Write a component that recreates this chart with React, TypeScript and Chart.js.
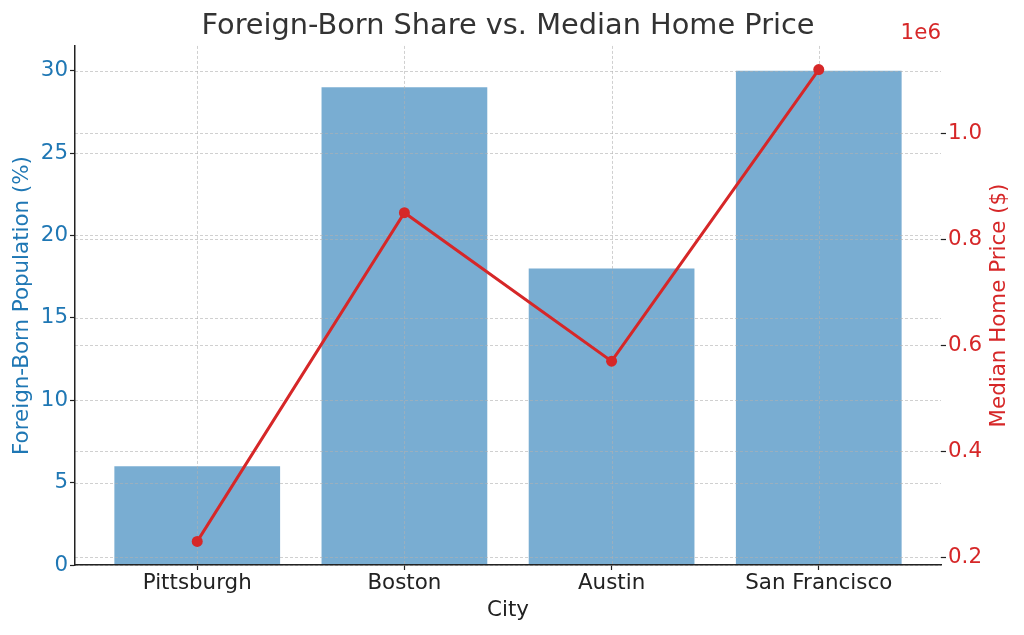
import React, { useEffect, useRef } from 'react';
import { Chart, registerables } from 'chart.js';

Chart.register(...registerables);

const cities = ['Pittsburgh', 'Boston', 'Austin', 'San Francisco'];
const foreignBornPct = [6, 29, 18, 30];
const medianHomePrice = [230000, 850000, 570000, 1120000];
const pctTicks = [0, 5, 10, 15, 20, 25, 30];
const priceTicks = [200000, 400000, 600000, 800000, 1000000];

const BLUE = '#1f77b4';
const RED = '#d62728';
const FONT = "'DejaVu Sans', sans-serif";
const LABEL_SIZE = 21.4;

const overlayPlugin = {
  id: 'overlay',
  afterDatasetDraw(chart: any, args: any) {
    if (args.index !== 0) return;
    const { ctx, chartArea: a } = chart;
    ctx.save();
    ctx.strokeStyle = 'rgba(176,176,176,0.6)';
    ctx.lineWidth = 1;
    ctx.setLineDash([3, 2]);
    const xs = chart.scales.x;
    xs.ticks.forEach((t: any) => {
      const px = Math.round(xs.getPixelForValue(t.value)) + 0.5;
      ctx.beginPath();
      ctx.moveTo(px, a.top);
      ctx.lineTo(px, a.bottom);
      ctx.stroke();
    });
    ['y', 'y1'].forEach((id) => {
      const s = chart.scales[id];
      s.ticks.forEach((t: any) => {
        const py = Math.round(s.getPixelForValue(t.value)) + 0.5;
        ctx.beginPath();
        ctx.moveTo(a.left, py);
        ctx.lineTo(a.right, py);
        ctx.stroke();
      });
    });
    ctx.restore();
  },
  afterDraw(chart: any) {
    const { ctx, chartArea: a } = chart;
    const midY = (a.top + a.bottom) / 2;
    const midX = (a.left + a.right) / 2;
    ctx.save();
    ctx.font = `${LABEL_SIZE}px ${FONT}`;
    ctx.textAlign = 'center';
    ctx.textBaseline = 'middle';
    ctx.save();
    ctx.translate(a.left - 53, midY);
    ctx.rotate(-Math.PI / 2);
    ctx.fillStyle = BLUE;
    ctx.fillText('Foreign-Born Population (%)', 0, 0);
    ctx.restore();
    ctx.save();
    ctx.translate(a.right + 58, midY);
    ctx.rotate(-Math.PI / 2);
    ctx.fillStyle = RED;
    ctx.fillText('Median Home Price ($)', 0, 0);
    ctx.restore();
    ctx.fillStyle = '#222';
    ctx.fillText('City', midX, a.bottom + 45);
    ctx.fillStyle = RED;
    ctx.textAlign = 'right';
    ctx.fillText('1e6', a.right, a.top - 13);
    ctx.restore();
  },
};

export default function App() {
  const ref = useRef<HTMLCanvasElement>(null);

  useEffect(() => {
    if (!ref.current) return;
    const n = cities.length;
    const xSpan = n - 1 + 0.8;
    const xPad = xSpan * 0.05;
    const pctMax = Math.max(...foreignBornPct) * 1.05;
    const pLo = Math.min(...medianHomePrice);
    const pHi = Math.max(...medianHomePrice);
    const pPad = (pHi - pLo) * 0.05;

    const tickFont = { family: FONT, size: LABEL_SIZE };

    const chart = new Chart(ref.current, {
      type: 'bar',
      data: {
        datasets: [
          {
            type: 'bar',
            label: 'Foreign-Born Population (%)',
            data: foreignBornPct.map((v, i) => ({ x: i, y: v })),
            backgroundColor: 'rgba(31,119,180,0.6)',
            borderWidth: 0,
            categoryPercentage: 0.8,
            barPercentage: 1.0,
            xAxisID: 'x',
            yAxisID: 'y',
            order: 1,
          } as any,
          {
            type: 'line',
            label: 'Median Home Price ($)',
            data: medianHomePrice.map((v, i) => ({ x: i, y: v })),
            borderColor: RED,
            backgroundColor: RED,
            borderWidth: 3,
            pointRadius: 5.5,
            pointBackgroundColor: RED,
            pointBorderWidth: 0,
            tension: 0,
            xAxisID: 'x',
            yAxisID: 'y1',
            order: 0,
          } as any,
        ],
      },
      options: {
        responsive: false,
        animation: false,
        devicePixelRatio: 1,
        layout: { padding: 0 },
        plugins: {
          legend: { display: false },
          tooltip: { enabled: false },
          title: {
            display: true,
            text: 'Foreign-Born Share vs. Median Home Price',
            color: '#333',
            font: { family: FONT, size: 28.8, weight: 'normal', lineHeight: 1.2 },
            padding: { top: 9, bottom: 2.4 },
            fullSize: false,
          } as any,
        },
        scales: {
          x: {
            type: 'linear',
            position: 'bottom',
            offset: false,
            min: -0.4 - xPad,
            max: n - 1 + 0.4 + xPad,
            afterBuildTicks: (s: any) => {
              s.ticks = cities.map((_, i) => ({ value: i }));
            },
            afterFit: (s: any) => {
              s.height = 70;
            },
            ticks: {
              callback: (v: any) => cities[Math.round(Number(v))] ?? '',
              color: '#222',
              font: tickFont,
              autoSkip: false,
              maxRotation: 0,
              padding: 1,
            },
            grid: {
              display: true,
              offset: false,
              drawOnChartArea: false,
              drawTicks: true,
              tickLength: 5,
              tickColor: '#222',
              tickWidth: 1.2,
            },
            border: { display: true, color: '#222', width: 1.5, z: 1 },
          } as any,
          y: {
            type: 'linear',
            position: 'left',
            min: 0,
            max: pctMax,
            afterBuildTicks: (s: any) => {
              s.ticks = pctTicks.map((v) => ({ value: v }));
            },
            afterFit: (s: any) => {
              s.width = 75;
            },
            ticks: { color: BLUE, font: tickFont, padding: 2 },
            grid: {
              display: true,
              drawOnChartArea: false,
              drawTicks: true,
              tickLength: 5,
              tickColor: '#222',
              tickWidth: 1.2,
            },
            border: { display: true, color: '#222', width: 1.5, z: 1 },
          } as any,
          y1: {
            type: 'linear',
            position: 'right',
            min: pLo - pPad,
            max: pHi + pPad,
            afterBuildTicks: (s: any) => {
              s.ticks = priceTicks.map((v) => ({ value: v }));
            },
            afterFit: (s: any) => {
              s.width = 83;
            },
            ticks: {
              color: RED,
              font: tickFont,
              padding: 2,
              callback: (v: any) => (Number(v) / 1e6).toFixed(1),
            },
            grid: {
              display: true,
              drawOnChartArea: false,
              drawTicks: true,
              tickLength: 5,
              tickColor: '#222',
              tickWidth: 1.2,
            },
            border: { display: false },
          } as any,
        },
      },
      plugins: [overlayPlugin],
    });
    return () => chart.destroy();
  }, []);

  return (
    <div style={{ position: 'absolute', left: 0, top: 0, width: 1024, height: 635, background: '#fff' }}>
      <canvas ref={ref} width={1024} height={635} style={{ display: 'block' }} />
    </div>
  );
}
